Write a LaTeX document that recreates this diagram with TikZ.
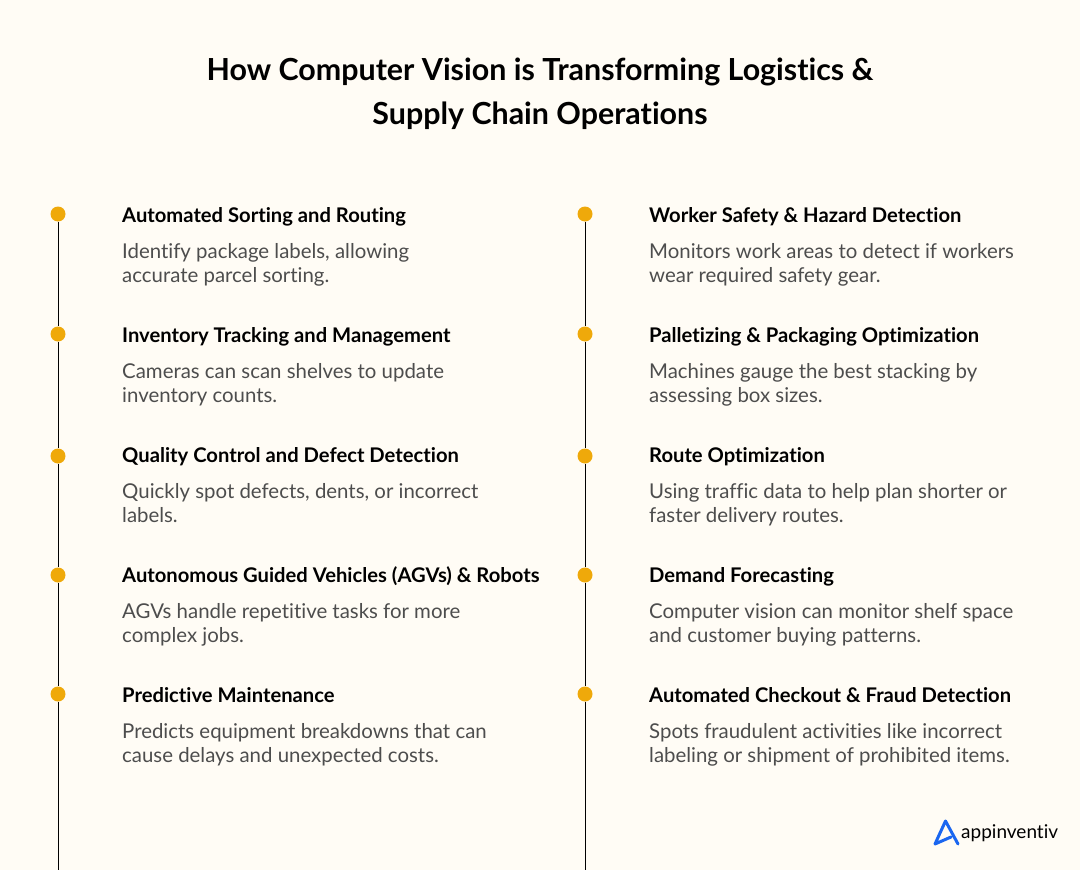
\documentclass[tikz,border=0pt]{standalone}
\usepackage{fontspec}
\setmainfont{Lato}[Ligatures={NoCommon}]
\definecolor{bgc}{HTML}{FFFCF5}
\definecolor{dotc}{HTML}{EFA90A}
\definecolor{bodyc}{HTML}{4D4D4D}
\definecolor{logoc}{HTML}{1A66F0}
\tikzset{
 x=1pt,y=-1pt,
 dotn/.style={circle,fill=dotc,minimum size=15pt,inner sep=0pt},
 rail/.style={draw=black,line width=0.8pt},
 head/.style={anchor=base west,inner sep=0pt,font=\fontsize{20.2}{20.2}\selectfont\bfseries,text=black},
 bodyt/.style={anchor=base west,inner sep=0pt,font=\fontsize{20.4}{20.4}\selectfont,text=bodyc},
 titlet/.style={anchor=base,inner sep=0pt,font=\fontsize{30.4}{30.4}\selectfont\bfseries,text=black}
}
\newcommand{\entry}[5]{%
 \node[head] at (#1,#2+0.6) {#3};
 \node[bodyt] at (#1,#2+36.4) {#4};
 \node[bodyt] at (#1,#2+60.4) {#5};
}
\begin{document}
\begin{tikzpicture}
\useasboundingbox (0,0) rectangle (1080,870);
\fill[bgc] (0,0) rectangle (1080,870);
\node[titlet] (t1) at (540,80) {How Computer Vision is Transforming Logistics \&};
\node[titlet] (t2) at (540,124) {Supply Chain Operations};
\coordinate (lend) at (58,870);
\coordinate (rend) at (585,870);
\foreach \nm/\y in {a/214,b/334,c/456,d/575,e/694}{
 \node[dotn] (l\nm) at (58,\y) {};
 \node[dotn] (r\nm) at (585,\y) {};
}
\draw[rail] (la) -- (lb); \draw[rail] (lb) -- (lc); \draw[rail] (lc) -- (ld); \draw[rail] (ld) -- (le); \draw[rail] (le) -- (lend);
\draw[rail] (ra) -- (rb); \draw[rail] (rb) -- (rc); \draw[rail] (rc) -- (rd); \draw[rail] (rd) -- (re); \draw[rail] (re) -- (rend);
\entry{122}{222}{Automated Sorting and Routing}{Identify package labels, allowing}{accurate parcel sorting.}
\entry{122}{342}{Inventory Tracking and Management}{Cameras can scan shelves to update}{inventory counts.}
\entry{122}{462}{Quality Control and Defect Detection}{Quickly spot defects, dents, or incorrect}{labels.}
\entry{122}{582}{Autonomous Guided Vehicles (AGVs) \& Robots}{AGVs handle repetitive tasks for more}{complex jobs.}
\entry{122}{702}{Predictive Maintenance}{Predicts equipment breakdowns that can}{cause delays and unexpected costs.}
\entry{649}{222}{Worker Safety \& Hazard Detection}{Monitors work areas to detect if workers}{wear required safety gear.}
\entry{649}{342}{Palletizing \& Packaging Optimization}{Machines gauge the best stacking by}{assessing box sizes.}
\entry{649}{462}{Route Optimization}{Using traffic data to help plan shorter or}{faster delivery routes.}
\entry{649}{582}{Demand Forecasting}{Computer vision can monitor shelf space}{and customer buying patterns.}
\entry{649}{702}{Automated Checkout \& Fraud Detection}{Spots fraudulent activities like incorrect}{labeling or shipment of prohibited items.}
\draw[logoc,line width=3pt,line join=round,line cap=round] (951,837) -- (935,844) -- (945.5,821) -- (958,844);
\node[anchor=base west,inner sep=0pt,font=\fontsize{19}{19}\selectfont] (logo) at (961,838) {appinventiv};
\end{tikzpicture}
\end{document}
